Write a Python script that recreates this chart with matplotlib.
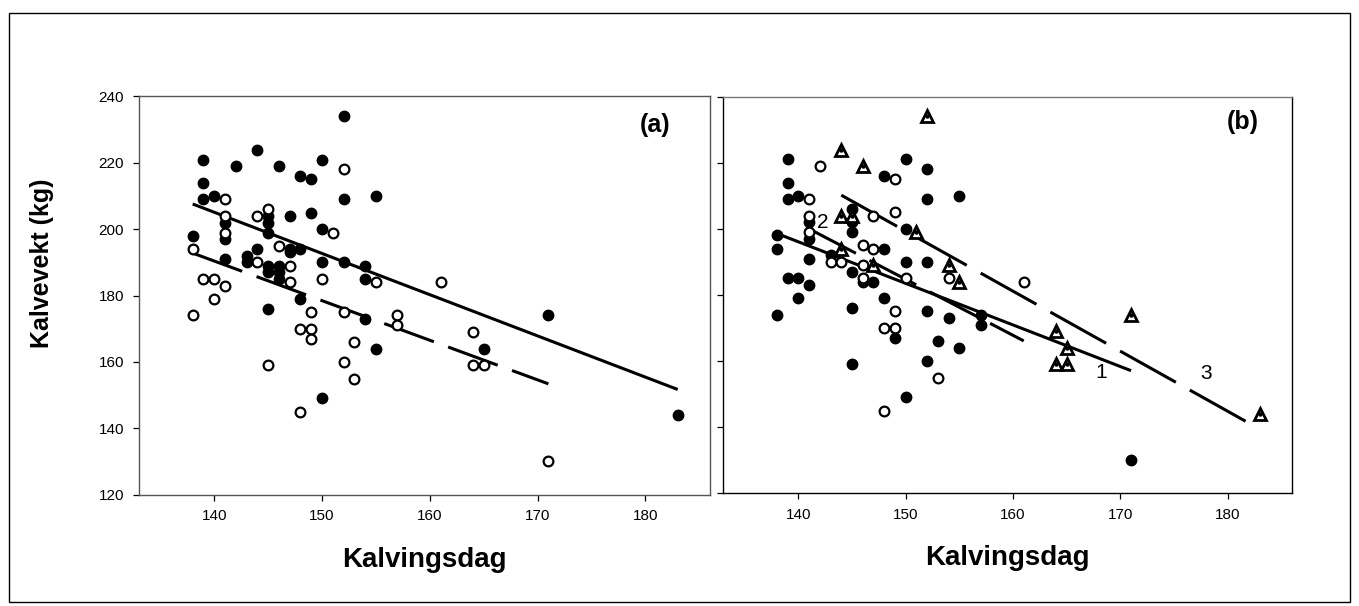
import matplotlib
matplotlib.use("Agg")
import matplotlib.pyplot as plt
from matplotlib.patches import Rectangle

plt.rcParams["font.family"] = ["Liberation Sans", "DejaVu Sans"]
plt.rcParams["lines.scale_dashes"] = False

# panel (a): two groups
a_filled_x = [152, 139, 144, 142, 146, 150, 148, 149, 139, 139, 140, 152, 155, 147, 149, 145,
              145, 141, 141, 150, 145, 138, 141, 143, 143, 144, 147, 147, 148, 145, 145, 146,
              146, 146, 150, 152, 154, 154, 148, 145, 154, 155, 150, 171, 165, 183]
a_filled_y = [234, 221, 224, 219, 219, 221, 216, 215, 214, 209, 210, 209, 210, 204, 205, 204,
              202, 202, 197, 200, 199, 198, 191, 192, 190, 194, 194, 193, 194, 189, 187, 189,
              187, 185, 190, 190, 189, 185, 179, 176, 173, 164, 149, 174, 164, 144]
a_open_x = [152, 141, 141, 141, 145, 144, 151, 138, 146, 144, 147, 139, 140, 141, 140, 138,
            147, 150, 155, 149, 152, 157, 157, 148, 149, 149, 153, 152, 145, 153, 148, 161,
            164, 164, 165, 171]
a_open_y = [218, 209, 204, 199, 206, 204, 199, 194, 195, 190, 189, 185, 185, 183, 179, 174,
            184, 185, 184, 175, 175, 174, 171, 170, 170, 167, 166, 160, 159, 155, 145, 184,
            169, 159, 159, 130]

# regression lines (a): solid and dashed
a_solid_x = [138, 183]
a_solid_y = [207.6, 151.7]
a_dash_x = [138, 171]
a_dash_y = [192.8, 153.4]

# panel (b): three groups
b_filled_x = [139, 150, 152, 148, 139, 139, 140, 152, 155, 145, 141, 145, 150, 145, 141, 138,
              138, 148, 141, 143, 145, 150, 152, 139, 140, 141, 140, 138, 146, 147, 148, 145,
              152, 154, 157, 157, 149, 153, 155, 152, 145, 150, 171]
b_filled_y = [221, 221, 218, 216, 214, 209, 210, 209, 210, 206, 202, 202, 200, 199, 197, 198,
              194, 194, 191, 192, 187, 190, 190, 185, 185, 183, 179, 174, 184, 184, 179, 176,
              175, 173, 174, 171, 167, 166, 164, 160, 159, 149, 130]
b_open_x = [142, 149, 141, 147, 149, 141, 141, 146, 147, 143, 144, 146, 146, 150, 154, 149,
            148, 149, 153, 148, 161]
b_open_y = [219, 215, 209, 204, 205, 204, 199, 195, 194, 190, 190, 189, 185, 185, 185, 175,
            170, 170, 155, 145, 184]
b_tri_x = [152, 144, 146, 144, 145, 151, 144, 147, 154, 155, 171, 164, 165, 164, 165, 183]
b_tri_y = [234, 224, 219, 204, 204, 199, 194, 189, 189, 184, 174, 169, 164, 159, 159, 144]

# regression lines (b)
b_line1_x = [138, 171]
b_line1_y = [198.6, 157.1]
b_line2_x = [141, 161]
b_line2_y = [200.0, 166.1]
b_line3_x = [144, 182]
b_line3_y = [210.2, 141.2]

fig = plt.figure(figsize=(13.59, 6.06), dpi=100)
ax_a = fig.add_axes([0.1021, 0.1837, 0.4204, 0.6571])
ax_b = fig.add_axes([0.5322, 0.1860, 0.4185, 0.6545])

fig.patches.append(Rectangle((0.0068, 0.006), 0.9866, 0.973, transform=fig.transFigure,
                             fill=False, edgecolor="black", linewidth=1.0))

for ax in (ax_a, ax_b):
    ax.set_xlim(133, 186)
    ax.set_ylim(120, 240)
    ax.set_xticks([140, 150, 160, 170, 180])
    ax.set_yticks([120, 140, 160, 180, 200, 220, 240])
    ax.tick_params(direction="out", length=4.5, width=0.9, labelsize=11, pad=6)

for sp in ax_a.spines.values():
    sp.set_color("#555555")
    sp.set_linewidth(1.0)
for name, sp in ax_b.spines.items():
    sp.set_color("#777777" if name == "top" else "black")
    sp.set_linewidth(1.0)
ax_b.set_yticklabels([])

lw = 2.2
fk = dict(linestyle="none", marker="o", markersize=7.5, color="black")
ok = dict(linestyle="none", marker="o", markersize=7.0, markerfacecolor="white",
          markeredgecolor="black", markeredgewidth=1.6)

# panel (a)
ax_a.plot(a_solid_x, a_solid_y, color="black", lw=lw, solid_capstyle="butt")
ax_a.plot(a_dash_x, a_dash_y, color="black", lw=lw, dashes=(38, 11), dash_capstyle="butt")
ax_a.plot(a_filled_x, a_filled_y, **fk)
ax_a.plot(a_open_x, a_open_y, **ok)
ax_a.text(0.904, 0.928, "(a)", transform=ax_a.transAxes, ha="center", va="center",
          fontsize=18, fontweight="bold")

# panel (b)
ax_b.plot(b_line1_x, b_line1_y, color="black", lw=lw, solid_capstyle="butt")
ax_b.plot(b_line2_x, b_line2_y, color="black", lw=lw, dashes=(38, 11), dash_capstyle="butt")
ax_b.plot(b_line3_x, b_line3_y, color="black", lw=lw, dashes=(46, 11.5), dash_capstyle="butt")
ax_b.plot(b_filled_x, b_filled_y, **fk)
ax_b.plot(b_open_x, b_open_y, **ok)
ax_b.plot(b_tri_x, b_tri_y, linestyle="none", marker="^", markersize=8,
          markerfacecolor="white", markeredgecolor="black", markeredgewidth=2.0)
ax_b.plot(b_tri_x, b_tri_y, linestyle="none", marker="o", markersize=2.2, color="black")
ax_b.text(168.2, 156.5, "1", fontsize=15, ha="center", va="center")
ax_b.text(142.3, 201.8, "2", fontsize=15, ha="center", va="center")
ax_b.text(178.0, 156.2, "3", fontsize=15, ha="center", va="center")
ax_b.text(0.914, 0.936, "(b)", transform=ax_b.transAxes, ha="center", va="center",
          fontsize=18, fontweight="bold")

for ax in (ax_a, ax_b):
    ax.set_xlabel("Kalvingsdag", fontsize=20, fontweight="bold", labelpad=17)

fig.text(0.031, 0.566, "Kalvevekt (kg)", rotation=90, ha="center", va="center",
         fontsize=18, fontweight="bold")

fig.savefig("out.png", dpi=100)
